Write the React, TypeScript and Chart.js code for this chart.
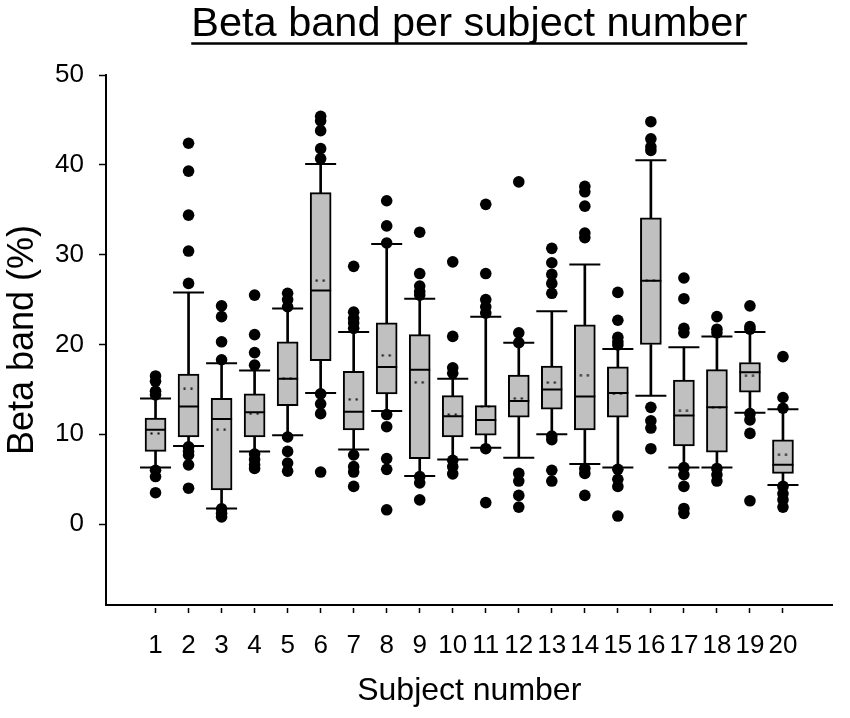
import React, { useEffect, useRef } from "react";
import { Chart, registerables } from "chart.js";

Chart.register(...registerables);

// values
const subjects = [1, 2, 3, 4, 5, 6, 7, 8, 9, 10, 11, 12, 13, 14, 15, 16, 17, 18, 19, 20];
const whiskerLow = [6.3, 8.7, 1.75, 8.1, 9.9, 14.6, 8.3, 12.6, 5.35, 7.2, 8.5, 7.4, 10.0, 6.7, 6.3, 14.3, 6.3, 6.3, 12.4, 4.35];
const q1 = [8.1, 9.7, 3.8, 9.7, 13.2, 18.2, 10.5, 14.5, 7.3, 9.7, 9.9, 11.9, 12.8, 10.5, 11.9, 20.0, 8.7, 8.0, 14.7, 5.65];
const medians = [10.5, 13.1, 11.7, 12.45, 16.2, 26.0, 12.5, 17.5, 17.2, 12.0, 11.6, 13.7, 15.0, 14.2, 14.6, 27.1, 12.1, 13.0, 16.9, 6.6];
const means = [10.1, 15.05, 10.5, 12.3, 16.2, 27.1, 13.9, 18.8, 15.8, 12.2, 13.1, 14.0, 15.75, 16.6, 14.5, 27.1, 12.6, 13.0, 16.5, 7.7];
const q3 = [11.8, 16.7, 14.0, 14.5, 20.3, 36.9, 17.0, 22.4, 21.1, 14.3, 13.2, 16.6, 17.6, 22.2, 17.5, 34.1, 16.05, 17.2, 18.0, 9.4];
const whiskerHigh = [14.0, 25.8, 17.9, 17.1, 24.0, 40.1, 21.4, 31.2, 25.1, 16.2, 23.1, 20.2, 23.7, 28.9, 19.5, 40.5, 19.7, 20.9, 21.4, 12.8];
const outliers = [
  [16.5, 15.9, 14.8, 14.4, 6.0, 5.3, 3.5],
  [42.4, 39.3, 34.4, 30.4, 26.8, 8.6, 8.1, 7.7, 6.6, 4.0],
  [24.3, 23.1, 20.3, 18.3, 1.7, 1.2, 0.8],
  [25.5, 21.1, 19.1, 17.7, 7.8, 7.2, 6.6, 6.2],
  [25.7, 25.0, 24.2, 9.7, 8.1, 6.8, 5.9],
  [45.4, 44.9, 43.8, 41.8, 40.7, 14.5, 13.4, 12.3, 5.8],
  [28.7, 23.6, 22.9, 22.4, 21.8, 7.7, 6.4, 5.8, 4.2],
  [36.0, 33.2, 31.3, 12.2, 10.85, 7.3, 6.1, 1.6],
  [32.5, 27.9, 26.5, 25.9, 25.5, 5.3, 4.6, 2.7],
  [29.2, 20.9, 17.4, 16.8, 7.1, 6.4, 5.6],
  [35.6, 27.9, 25.0, 24.2, 23.5, 8.4, 2.4],
  [38.1, 21.3, 20.2, 5.65, 4.8, 3.2, 1.9],
  [30.7, 29.1, 27.8, 26.8, 25.7, 9.8, 9.4, 6.0, 4.8],
  [37.6, 37.0, 35.4, 32.4, 31.9, 6.2, 5.65, 3.2],
  [25.8, 22.7, 20.8, 20.3, 19.95, 6.1, 5.0, 4.2, 0.9],
  [44.8, 42.9, 42.0, 41.6, 13.0, 11.5, 10.7, 8.4],
  [27.4, 25.1, 21.8, 21.3, 6.3, 5.5, 4.2, 1.75, 1.2],
  [23.1, 21.7, 21.3, 6.2, 5.5, 4.8],
  [24.3, 22.0, 21.7, 12.3, 11.6, 10.1, 2.6],
  [18.65, 14.1, 12.9, 4.2, 3.4, 2.7, 1.9],
];
const yTicks = [0, 10, 20, 30, 40, 50];

const TITLE = "Beta band per subject number";
const FONT = "'Liberation Sans', Arial, sans-serif";
const TITLE_SIZE = 41.5;

// two small dots used as the marker for the mean
function makeMeanMarker() {
  const c = document.createElement("canvas");
  c.width = 21;
  c.height = 3;
  const g = c.getContext("2d");
  if (g) {
    g.fillStyle = "#000";
    g.fillRect(5.5, 0.5, 2, 2);
    g.fillRect(12.5, 0.5, 2, 2);
  }
  return c;
}

// underline under the chart title
const titleUnderline = {
  id: "titleUnderline",
  afterDraw(chart: any) {
    const tb = chart.titleBlock;
    if (!tb) return;
    const ctx = chart.ctx;
    ctx.save();
    ctx.font = `${TITLE_SIZE}px ${FONT}`;
    const w = ctx.measureText(TITLE).width;
    const cx = (tb.left + tb.right) / 2;
    const y = tb.top + (TITLE_SIZE * 1.2) / 2 + 18.5;
    ctx.strokeStyle = "#000";
    ctx.lineWidth = 2.5;
    ctx.beginPath();
    ctx.moveTo(cx - w / 2, y);
    ctx.lineTo(cx + w / 2, y);
    ctx.stroke();
    ctx.restore();
  },
};

const App: React.FC = () => {
  const chartRef = useRef<HTMLCanvasElement | null>(null);
  const chartInstance = useRef<Chart | null>(null);

  useEffect(() => {
    document.body.style.margin = "0";
    if (!chartRef.current) return;
    if (chartInstance.current) chartInstance.current.destroy();
    const ctx = chartRef.current.getContext("2d");
    if (!ctx) return;

    const outlierPoints: { x: number; y: number }[] = [];
    subjects.forEach((s, i) => outliers[i].forEach((v) => outlierPoints.push({ x: s, y: v })));

    const capPoints: { x: number; y: number }[] = [];
    subjects.forEach((s, i) => {
      capPoints.push({ x: s, y: whiskerLow[i] });
      capPoints.push({ x: s, y: whiskerHigh[i] });
    });

    chartInstance.current = new Chart(ctx, {
      type: "bar",
      data: {
        datasets: [
          {
            label: "lower whisker",
            data: subjects.map((s, i) => ({ x: s, y: [whiskerLow[i], q1[i]] })) as any,
            backgroundColor: "#000",
            borderWidth: 0,
            barThickness: 2,
            grouped: false,
            order: 6,
          },
          {
            label: "upper whisker",
            data: subjects.map((s, i) => ({ x: s, y: [q3[i], whiskerHigh[i]] })) as any,
            backgroundColor: "#000",
            borderWidth: 0,
            barThickness: 2,
            grouped: false,
            order: 6,
          },
          {
            label: "box",
            data: subjects.map((s, i) => ({ x: s, y: [q1[i], q3[i]] })) as any,
            backgroundColor: "#c0c0c0",
            borderColor: "#000",
            borderWidth: 2,
            borderSkipped: false,
            barThickness: 21,
            grouped: false,
            order: 5,
          },
          {
            type: "scatter",
            label: "median",
            data: subjects.map((s, i) => ({ x: s, y: medians[i] })),
            pointStyle: "line",
            pointRadius: 10.5,
            borderColor: "#000",
            borderWidth: 2,
            order: 4,
          } as any,
          {
            type: "scatter",
            label: "mean",
            data: subjects.map((s, i) => ({ x: s, y: means[i] })),
            pointStyle: makeMeanMarker(),
            order: 3,
          } as any,
          {
            type: "scatter",
            label: "caps",
            data: capPoints,
            pointStyle: "line",
            pointRadius: 15.5,
            borderColor: "#000",
            borderWidth: 2,
            order: 2,
          } as any,
          {
            type: "scatter",
            label: "outliers",
            data: outlierPoints,
            pointStyle: "circle",
            pointRadius: 5.8,
            backgroundColor: "#000",
            borderWidth: 0,
            order: 1,
          } as any,
        ],
      },
      options: {
        responsive: false,
        animation: false,
        layout: { padding: { left: 0, right: 7, top: 0, bottom: 0 } },
        plugins: {
          legend: { display: false },
          tooltip: { enabled: false },
          title: {
            display: true,
            text: TITLE,
            fullSize: false,
            color: "#000",
            font: { family: FONT, size: TITLE_SIZE, weight: "normal" },
            padding: { top: 0, bottom: 75 - TITLE_SIZE * 1.2 },
          },
        },
        scales: {
          x: {
            type: "linear",
            min: -0.5,
            max: 21.5,
            offset: false,
            afterFit: (scale: any) => {
              scale.height = 113;
            },
            afterBuildTicks: (scale: any) => {
              scale.ticks = subjects.map((v) => ({ value: v }));
            },
            grid: {
              offset: false,
              drawOnChartArea: false,
              drawTicks: true,
              tickLength: 8,
              tickWidth: 1.5,
              tickColor: "#000",
              tickBorderDash: [0, 2, 6, 20],
            },
            border: { display: true, color: "#000", width: 2 },
            ticks: {
              color: "#000",
              font: { family: FONT, size: 26 },
              padding: 17,
              maxRotation: 0,
              autoSkip: false,
              callback: (v: any) => String(v),
            },
            title: {
              display: true,
              text: "Subject number",
              color: "#000",
              font: { family: FONT, size: 32 },
              padding: { top: 0, bottom: 8 },
            },
          },
          y: {
            type: "linear",
            min: -9,
            max: 50,
            afterFit: (scale: any) => {
              scale.width = 106;
            },
            afterBuildTicks: (scale: any) => {
              scale.ticks = yTicks.map((v) => ({ value: v }));
            },
            grid: {
              drawOnChartArea: false,
              drawTicks: true,
              tickLength: 7,
              tickWidth: 1.5,
              tickColor: "#000",
            },
            border: { display: true, color: "#000", width: 2 },
            ticks: {
              color: "#000",
              font: { family: FONT, size: 26 },
              padding: 15,
            },
            title: {
              display: true,
              text: "Beta band (%)",
              color: "#000",
              font: { family: FONT, size: 36 },
              padding: { top: 1, bottom: 0 },
            },
          },
        },
      },
      plugins: [titleUnderline],
    });

    return () => {
      if (chartInstance.current) {
        chartInstance.current.destroy();
        chartInstance.current = null;
      }
    };
  }, []);

  return (
    <div style={{ width: 850, height: 718, background: "#fff" }}>
      <canvas ref={chartRef} width={850} height={718}></canvas>
    </div>
  );
};

export default App;
